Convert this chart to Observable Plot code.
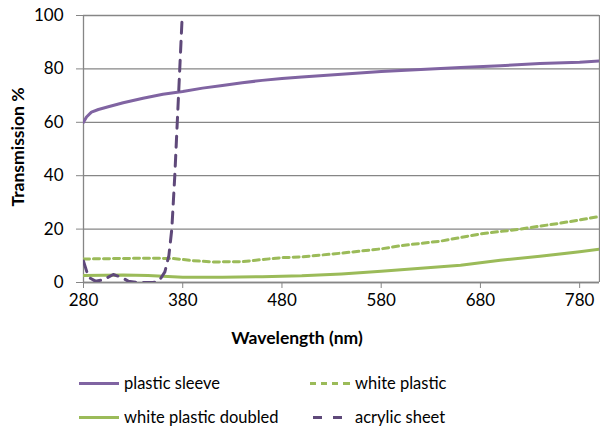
<!DOCTYPE html>
<html>
<head>
<meta charset="utf-8">
<script src="https://cdn.jsdelivr.net/npm/d3@7"></script>
<script src="https://cdn.jsdelivr.net/npm/@observablehq/plot@0.6"></script>
<style>
  body { margin:0; background:#fff; font-family: Lato, "DejaVu Sans", sans-serif; }
  #wrap { position:relative; width:600px; height:430px; }
  .lbl { position:absolute; font-weight:bold; font-size:17.5px; color:#000; white-space:nowrap; }
  .leg { position:absolute; font-size:16.5px; color:#000; white-space:nowrap; line-height:20px; }
  .sw { position:absolute; height:3px; top:9px; }
</style>
</head>
<body>
<div id="wrap"></div>
<script>
const xTicks = [280, 380, 480, 580, 680, 780];
const yTicks = [0, 20, 40, 60, 80, 100];

const sleeveWl = [280,283,288,295,305,320,340,360,380,400,420,440,460,480,500,540,580,620,660,700,740,780,800];
const sleeveT  = [60,62,63.8,64.8,65.8,67.3,69,70.5,71.5,72.8,73.8,74.8,75.7,76.4,77,78,79,79.8,80.5,81.2,82,82.5,83];

const whiteWl = [280,300,340,370,390,410,440,460,480,500,540,580,600,640,680,720,760,800];
const whiteT  = [8.8,8.9,9.1,9,8.2,7.7,7.8,8.6,9.3,9.6,11,12.6,13.8,15.5,18.2,20,22.2,24.7];

const doubledWl = [280,300,320,345,360,380,420,460,500,540,580,620,660,700,740,780,800];
const doubledT  = [2.6,2.7,2.8,2.6,2.3,2.0,2.0,2.2,2.5,3.2,4.2,5.3,6.5,8.3,9.8,11.5,12.5];

const acrylicWl = [280,285,292,300,310,318,325,335,350,356,362,366,369,372,374.5,377,379.5];
const acrylicT  = [8,2,0.5,1,3,2,0.5,0,0,0.5,4,10,20,40,60,80,100];

const series = ["plastic sleeve", "white plastic", "white plastic doubled", "acrylic sheet"];
const colors = ["#8064A2", "#9BBB59", "#9BBB59", "#5F497A"];
const dashes = [null, "6,4", null, "11,8"];

const toRows = (wl, t) => wl.map((w, i) => ({w, t: t[i]}));
const sets = [toRows(sleeveWl, sleeveT), toRows(whiteWl, whiteT), toRows(doubledWl, doubledT), toRows(acrylicWl, acrylicT)];

const grid = "#868686";
const chart = Plot.plot({
  width: 600, height: 345,
  marginLeft: 83, marginRight: 1, marginTop: 15, marginBottom: 63,
  style: { fontFamily: "Lato, sans-serif", fontSize: "17px", color: "#000", background: "transparent" },
  x: { domain: [280, 800] },
  y: { domain: [0, 100] },
  marks: [
    Plot.gridY(yTicks, { stroke: grid, strokeOpacity: 1, strokeWidth: 1.3 }),
    Plot.ruleX([800], { stroke: grid, strokeWidth: 1.3 }),
    Plot.ruleX([280], { stroke: grid, strokeWidth: 1.3 }),
    Plot.ruleY([0], { stroke: grid, strokeWidth: 1.3 }),
    Plot.axisX({ ticks: xTicks, tickSize: 6, tickPadding: 5, stroke: grid, fill: "#000", label: null }),
    Plot.axisY({ ticks: yTicks, tickSize: 7, tickPadding: 13, stroke: grid, fill: "#000", label: null }),
    ...sets.map((d, i) => Plot.line(d, {
      x: "w", y: "t", stroke: colors[i], strokeWidth: 3,
      strokeDasharray: dashes[i], clip: true, curve: "linear"
    }))
  ]
});

const wrap = document.getElementById("wrap");
chart.style.position = "absolute";
chart.style.left = "0px";
chart.style.top = "0px";
wrap.appendChild(chart);

const xl = document.createElement("div");
xl.className = "lbl";
xl.textContent = "Wavelength (nm)";
xl.style.left = "297px"; xl.style.top = "337px";
xl.style.transform = "translate(-50%, -50%)";
wrap.appendChild(xl);

const yl = document.createElement("div");
yl.className = "lbl";
yl.textContent = "Transmission %";
yl.style.left = "17px"; yl.style.top = "147px";
yl.style.transform = "translate(-50%, -50%) rotate(-90deg)";
wrap.appendChild(yl);

// legend swatch segments [start, length] within a 40px sample
const swatchSegs = [
  [[0, 40]],
  [[0, 6], [11, 6], [22, 6], [33, 7]],
  [[0, 40]],
  [[3, 9], [23, 9]]
];
const legPos = [[79, 383], [310, 383], [79, 417], [310, 417]];
series.forEach((s, i) => {
  const d = document.createElement("div");
  d.className = "leg";
  d.style.left = legPos[i][0] + "px";
  d.style.top = (legPos[i][1] - 10) + "px";
  d.style.height = "20px";
  d.style.width = "250px";
  let html = "";
  swatchSegs[i].forEach(([x0, len]) => {
    html += `<div class="sw" style="left:${x0}px;width:${len}px;background:${colors[i]}"></div>`;
  });
  html += `<span style="position:absolute;left:45px;top:0">${s}</span>`;
  d.innerHTML = html;
  wrap.appendChild(d);
});
</script>
</body>
</html>
